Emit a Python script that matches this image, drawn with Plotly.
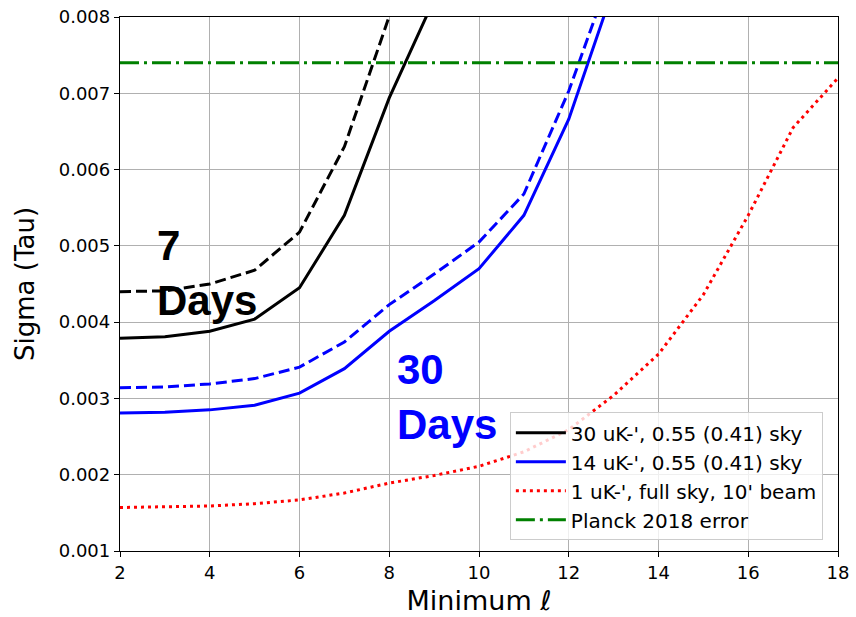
import plotly.graph_objects as go

ell = [2, 3, 4, 5, 6, 7, 8, 9, 10, 11, 12, 13, 14, 15, 16, 17, 18]

# 30 uK-arcmin (7 days)
ell_30 = [2, 3, 4, 5, 6, 7, 8, 9]
sig_30_055 = [0.00379, 0.00381, 0.00388, 0.00404, 0.00445, 0.00540, 0.00694, 0.00823]
ell_30d = [2, 3, 4, 5, 6, 7, 8, 9]
sig_30_041 = [0.00440, 0.00441, 0.00450, 0.00468, 0.00518, 0.00630, 0.00801, 0.01000]

# 14 uK-arcmin (30 days)
ell_14 = [2, 3, 4, 5, 6, 7, 8, 9, 10, 11, 12, 13]
sig_14_055 = [0.00281, 0.00282, 0.00285, 0.00291, 0.00307, 0.00339, 0.00388, 0.00428,
              0.00470, 0.00540, 0.00666, 0.00838]
sig_14_041 = [0.00314, 0.00315, 0.00319, 0.00326, 0.00341, 0.00374, 0.00423, 0.00463,
              0.00505, 0.00568, 0.00703, 0.00867]

# 1 uK-arcmin full sky
sig_1_full = [0.00157, 0.00158, 0.00159, 0.00162, 0.00167, 0.00176, 0.00189, 0.00199,
              0.00211, 0.00230, 0.00259, 0.00304, 0.00358, 0.00436, 0.00540, 0.00655, 0.00720]

planck_err = 0.0074

names = ["30 uK-', 0.55 (0.41) sky", "14 uK-', 0.55 (0.41) sky",
         "1 uK-', full sky, 10' beam", "Planck 2018 error"]

fig = go.Figure()
LW = 3
fig.add_trace(go.Scatter(x=ell_30, y=sig_30_055, mode="lines", name=names[0],
                         line=dict(color="black", width=LW)))
fig.add_trace(go.Scatter(x=ell_30d, y=sig_30_041, mode="lines", showlegend=False,
                         line=dict(color="black", width=LW, dash="11px,5px")))
fig.add_trace(go.Scatter(x=ell_14, y=sig_14_055, mode="lines", name=names[1],
                         line=dict(color="blue", width=LW)))
fig.add_trace(go.Scatter(x=ell_14, y=sig_14_041, mode="lines", showlegend=False,
                         line=dict(color="blue", width=LW, dash="11px,5px")))
fig.add_trace(go.Scatter(x=ell, y=sig_1_full, mode="lines", name=names[2],
                         line=dict(color="red", width=LW, dash="3px,4px")))
fig.add_trace(go.Scatter(x=[ell[0], ell[-1]], y=[planck_err, planck_err], mode="lines",
                         name=names[3],
                         line=dict(color="green", width=LW, dash="19px,5px,3px,5px")))

fig.add_annotation(x=2.78, y=0.00465, xref="x", yref="y", text="<b>7<br>Days</b>",
                   showarrow=False, xanchor="left", yanchor="middle", align="left",
                   font=dict(family="Liberation Sans", size=42, color="black"))
fig.add_annotation(x=8.13, y=0.00302, xref="x", yref="y", text="<b>30<br>Days</b>",
                   showarrow=False, xanchor="left", yanchor="middle", align="left",
                   font=dict(family="Liberation Sans", size=42, color="blue"))

axis_common = dict(showline=True, linecolor="black", linewidth=1.3, mirror=True,
                   ticks="outside", ticklen=5, tickcolor="black", tickwidth=1.2,
                   showgrid=True, gridcolor="#b0b0b0", gridwidth=1, zeroline=False,
                   tickfont=dict(size=18, color="black"), automargin=False)

fig.update_xaxes(range=[2, 18], dtick=2, tick0=2,
                 title=dict(text="Minimum ℓ", font=dict(size=27), standoff=9),
                 **axis_common)
fig.update_yaxes(range=[0.001, 0.008], dtick=0.001, tickformat=".3f",
                 title=dict(text="Sigma (Tau)", font=dict(size=26), standoff=16),
                 **axis_common)

fig.update_layout(
    width=856, height=617,
    margin=dict(l=120, r=18, t=17, b=66),
    paper_bgcolor="white", plot_bgcolor="white",
    font=dict(family="DejaVu Sans", color="black"),
    legend=dict(x=0.543, y=0.02, xanchor="left", yanchor="bottom",
                bgcolor="rgba(255,255,255,0.8)", bordercolor="#cccccc", borderwidth=1,
                font=dict(size=20, color="black"), tracegroupgap=0, itemwidth=50,
                entrywidth=265, entrywidthmode="pixels"),
)

fig.write_html("out.html")
